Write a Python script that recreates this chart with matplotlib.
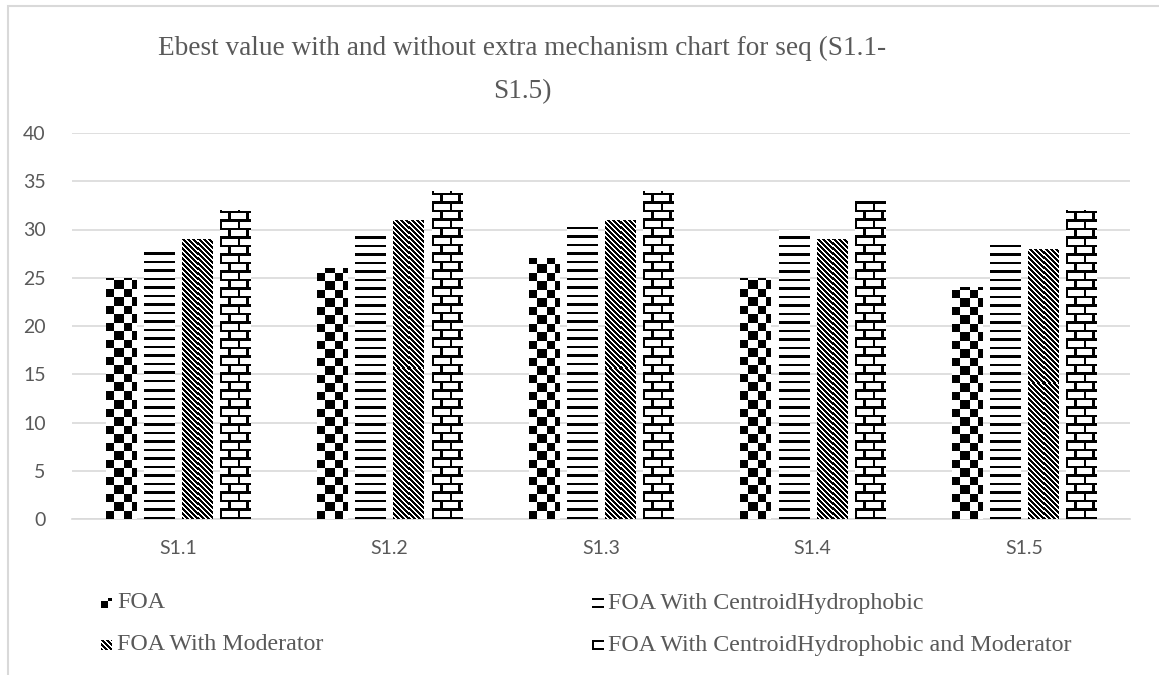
import numpy as np
import matplotlib
matplotlib.use("Agg")
import matplotlib.pyplot as plt
from matplotlib.patches import Rectangle

# data
categories = ["S1.1", "S1.2", "S1.3", "S1.4", "S1.5"]
foa = [25, 26, 27, 25, 24]
foa_centroid = [28, 29.8, 30.6, 30, 28.9]
foa_moderator = [29, 31, 31, 29, 28]
foa_both = [32, 34, 34, 33, 32]
series_names = ["FOA", "FOA With CentroidHydrophobic",
                "FOA With Moderator", "FOA With CentroidHydrophobic and Moderator"]

W, H = 1159, 675
fig = plt.figure(figsize=(W / 100, H / 100), dpi=100)
ax = fig.add_axes([72 / W, 1 - 519 / H, (1130 - 72) / W, (519 - 133) / H])

TXT = "#595959"
GRID = "#d9d9d9"


# pixel patterns like the excel fills (X, Y in pixels from bar corner)
def checker(X, Y):
    s = 8.5
    return ((np.floor(X / s) + np.floor(Y / s)) % 2) == 0


def hlines(X, Y):
    return (Y % 8.5) < 2.4


def diag(X, Y):
    return ((X + Y) % 5.0) < 2.4


def brick(X, Y):
    row = np.floor(Y / 8.5)
    horiz = (Y % 8.5) < 2.2
    vert = ((X + (row % 2) * 8.5) % 17) < 2.2
    return horiz | vert


patterns = [checker, hlines, diag, brick]
all_vals = [foa, foa_centroid, foa_moderator, foa_both]

x = np.arange(len(categories))
bw = 0.142
step = 0.18
offsets = (np.arange(4) - 1.5) * step

ax.set_xlim(-0.5, len(categories) - 0.5)
ax.set_ylim(0, 40)

bar_groups = []
for i, vals in enumerate(all_vals):
    bars = ax.bar(x + offsets[i], vals, bw, color="white", edgecolor="none", zorder=2)
    bar_groups.append(bars)

# overlay the pixel pattern, clipped to each bar
for i, bars in enumerate(bar_groups):
    for b in bars:
        x0, y0 = b.get_x(), b.get_y()
        x1, y1 = x0 + b.get_width(), y0 + b.get_height()
        p0 = ax.transData.transform((x0, y0))
        p1 = ax.transData.transform((x1, y1))
        wpx = int(round(p1[0] - p0[0]))
        hpx = int(round(p1[1] - p0[1]))
        X, Y = np.meshgrid(np.arange(wpx) + 0.5, np.arange(hpx) + 0.5)
        img = patterns[i](X, Y).astype(float)
        im = ax.imshow(img, extent=[x0, x1, y0, y1], origin="lower", cmap="gray_r",
                       vmin=0, vmax=1, interpolation="nearest", aspect="auto", zorder=3)
        im.set_clip_path(b)

ax.set_xlim(-0.5, len(categories) - 0.5)
ax.set_ylim(0, 40)

ax.set_yticks(range(0, 41, 5))
ax.grid(axis="y", color=GRID, linewidth=1.2, zorder=0)
ax.set_axisbelow(True)
for s in ["top", "right", "left"]:
    ax.spines[s].set_visible(False)
ax.spines["bottom"].set_color(GRID)
ax.spines["bottom"].set_linewidth(1.2)
ax.set_xticks(x)
ax.set_xticklabels(categories)
ax.tick_params(axis="both", length=0, labelcolor=TXT, labelsize=14)
ax.tick_params(axis="y", pad=19)
ax.tick_params(axis="x", pad=15)
for lab in ax.get_xticklabels() + ax.get_yticklabels():
    lab.set_fontfamily("Lato")

fig.text(522 / W, 1 - 70 / H, "Ebest value with and without extra mechanism chart for seq (S1.1-\nS1.5)",
         ha="center", va="center", fontsize=19.6, color=TXT, family="Liberation Serif",
         linespacing=2.0)

# legend, built by hand to mimic excel's 2-column layout
leg_pos = [(101, 603), (592, 603), (101, 645), (592, 645)]
for i, name in enumerate(series_names):
    lx, ly = leg_pos[i]
    sw = fig.add_axes([lx / W, 1 - (ly + 5) / H, 11 / W, 10 / H])
    sw.set_axis_off()
    X, Y = np.meshgrid(np.arange(11) + 0.5, np.arange(10) + 0.5)
    if i == 0:
        img = checker(X * 1.3, Y * 1.3)
    else:
        img = patterns[i](X, Y)
    sw.imshow(img.astype(float), origin="lower", cmap="gray_r", vmin=0, vmax=1,
              interpolation="nearest", aspect="auto")
    fig.text((lx + 16) / W, 1 - ly / H, name, ha="left", va="center",
             fontsize=17.3, color=TXT, family="Liberation Serif")

# chart border
fig.add_artist(Rectangle((8 / W, -0.1), 1.2, 1 - 6 / H + 0.1, transform=fig.transFigure,
                         fill=False, edgecolor=GRID, linewidth=1.5))

fig.savefig("out.png", dpi=100)
